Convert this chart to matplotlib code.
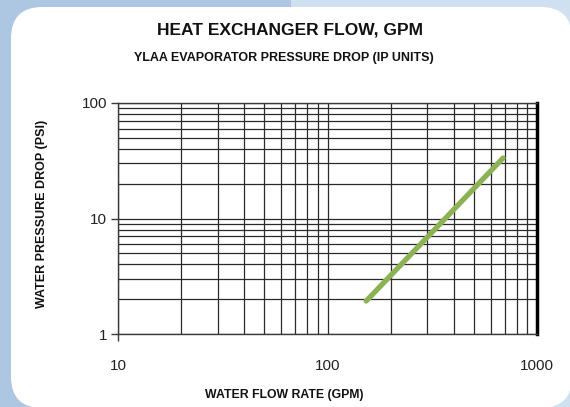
import matplotlib
matplotlib.use("Agg")
import matplotlib.pyplot as plt
from matplotlib.patches import FancyBboxPatch, Rectangle
from matplotlib.ticker import LogLocator, NullFormatter, FixedLocator, FixedFormatter

plt.rcParams['font.family'] = ['Liberation Sans', 'DejaVu Sans']

# Data
flow_gpm = [153, 689]
pressure_drop_psi = [1.93, 33.4]
x_ticks = [10, 100, 1000]
x_tick_labels = ["10", "100", "1000"]
y_ticks = [1, 10, 100]
y_tick_labels = ["1", "10", "100"]

title = "HEAT EXCHANGER FLOW, GPM"
subtitle = "YLAA EVAPORATOR PRESSURE DROP (IP UNITS)"
xlabel = "WATER FLOW RATE (GPM)"
ylabel = "WATER PRESSURE DROP (PSI)"

W, H = 570, 407
fig = plt.figure(figsize=(W / 100, H / 100), dpi=100)
fig.patch.set_facecolor('#cfe0f1')

# background bands and white rounded panel (pixel coords -> figure fraction)
fig.patches.append(Rectangle((0, 0), 291 / W, 1, transform=fig.transFigure,
                             facecolor='#adc6e2', edgecolor='none', zorder=0))
fig.patches.append(FancyBboxPatch((11 / W, (H - 408) / H), (572 - 11) / W, (408 - 7) / H,
                                  boxstyle="round,pad=0,rounding_size=0.055",
                                  mutation_aspect=W / H,
                                  transform=fig.transFigure, facecolor='white',
                                  edgecolor='none', zorder=1))

ax = fig.add_axes([118 / W, 1 - 334 / H, (537 - 118) / W, (334 - 103) / H])
ax.set_zorder(2)
ax.set_facecolor('white')
ax.set_xscale('log')
ax.set_yscale('log')
ax.set_xlim(10, 1000)
ax.set_ylim(1, 100)

ax.xaxis.set_major_locator(FixedLocator(x_ticks))
ax.xaxis.set_major_formatter(FixedFormatter(x_tick_labels))
ax.yaxis.set_major_locator(FixedLocator(y_ticks))
ax.yaxis.set_major_formatter(FixedFormatter(y_tick_labels))
ax.xaxis.set_minor_locator(LogLocator(base=10, subs=range(2, 10)))
ax.yaxis.set_minor_locator(LogLocator(base=10, subs=range(2, 10)))
ax.xaxis.set_minor_formatter(NullFormatter())
ax.yaxis.set_minor_formatter(NullFormatter())

ax.grid(True, which='both', color='#2a2a2a', linewidth=0.9)
ax.set_axisbelow(True)

ax.plot(flow_gpm, pressure_drop_psi, color='#8db255', linewidth=3.8,
        solid_capstyle='round', zorder=3)

for s in ['top', 'bottom', 'left']:
    ax.spines[s].set_color('#3a3a3a')
    ax.spines[s].set_linewidth(1.0)
ax.spines['right'].set_color('black')
ax.spines['right'].set_linewidth(2.5)

ax.tick_params(axis='y', which='major', length=5, width=1, color='#3a3a3a',
               pad=3, labelsize=11, labelcolor='#222222')
ax.tick_params(axis='x', which='major', length=5, width=1, color='#3a3a3a',
               pad=13, labelsize=11, labelcolor='#222222')
ax.tick_params(which='minor', length=0)
for t in ax.xaxis.get_major_ticks()[1:]:
    t.tick1line.set_visible(False)

fig.text(290 / W, 1 - 30 / H, title, ha='center', va='center',
         fontsize=12.5, fontweight='bold', color='#111111')
fig.text(284 / W, 1 - 58 / H, subtitle, ha='center', va='center',
         fontsize=9, fontweight='bold', color='#111111')
fig.text(284 / W, 1 - 395 / H, xlabel, ha='center', va='center',
         fontsize=8.8, fontweight='bold', color='#111111')
fig.text(42 / W, 1 - 214 / H, ylabel, ha='center', va='center', rotation=90,
         fontsize=9, fontweight='bold', color='#111111')

fig.savefig('out.png', dpi=100, facecolor=fig.get_facecolor())
